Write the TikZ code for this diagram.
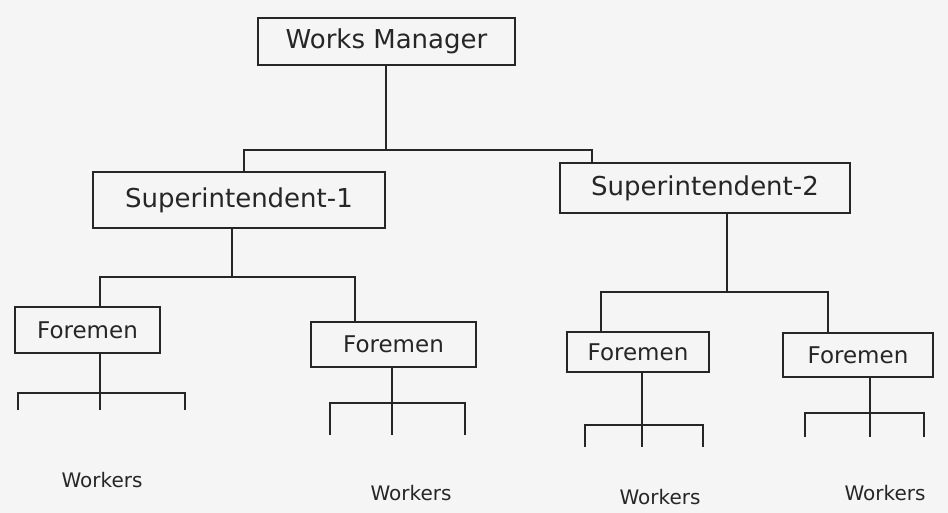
\documentclass[tikz,border=0pt]{standalone}
\usepackage{fontspec}
\setmainfont{DejaVu Sans}
\begin{document}
\begin{tikzpicture}[x=1pt,y=-1pt,
  line width=1.6pt, draw=black!85,
  box/.style={draw=black!85, rectangle, inner sep=0pt, font=\fontsize{26}{28}\selectfont, text=black!85},
  fbox/.style={box, font=\fontsize{23}{25}\selectfont},
  lbl/.style={font=\fontsize{20}{22}\selectfont, text=black!85},
  link/.style={draw=black!85, line width=1.6pt}]
\fill[black!4] (0,0) rectangle (948,513);
\useasboundingbox (0,0) rectangle (948,513);

% boxes
\node[box, minimum width=257pt, minimum height=47pt] (wm) at (386.5,41.5) {Works Manager};
\node[box, minimum width=292pt, minimum height=56pt] (s1) at (239,200) {Superintendent-1};
\node[box, minimum width=290pt, minimum height=50pt] (s2) at (705,188) {Superintendent-2};
\node[fbox, minimum width=145pt, minimum height=46pt] (f1) at (87.5,330) {Foremen};
\node[fbox, minimum width=165pt, minimum height=45pt] (f2) at (393.5,344.5) {Foremen};
\node[fbox, minimum width=142pt, minimum height=40pt] (f3) at (638,352) {Foremen};
\node[fbox, minimum width=150pt, minimum height=44pt] (f4) at (858,355) {Foremen};

% worker labels
\node[lbl] (w1) at (102,480) {Workers};
\node[lbl] (w2) at (411,493) {Workers};
\node[lbl] (w3) at (660,497) {Workers};
\node[lbl] (w4) at (885,493) {Workers};

% manager to superintendents
\coordinate (m0) at (386,150);
\coordinate (ml) at (244,150);
\coordinate (mr) at (592,150);
\draw[link] (wm.south -| m0) -- (m0);
\draw[link] (ml |- s1.north) -- (ml) -- (mr) -- (mr |- s2.north);

% superintendent 1 to foremen
\coordinate (a0) at (232,277);
\coordinate (al) at (100,277);
\coordinate (ar) at (355,277);
\draw[link] (s1.south -| a0) -- (a0);
\draw[link] (al |- f1.north) -- (al) -- (ar) -- (ar |- f2.north);

% superintendent 2 to foremen
\coordinate (b0) at (727,292);
\coordinate (bl) at (601,292);
\coordinate (br) at (828,292);
\draw[link] (s2.south -| b0) -- (b0);
\draw[link] (bl |- f3.north) -- (bl) -- (br) -- (br |- f4.north);

% foremen to worker forks
\coordinate (c0) at (100,393);
\coordinate (cl) at (18,393);
\coordinate (cr) at (185,393);
\draw[link] (f1.south -| c0) -- (c0) -- ++(0,17);
\draw[link] (cl) ++(0,17) -- (cl) -- (cr) -- ++(0,17);

\coordinate (d0) at (392,403);
\coordinate (dl) at (330,403);
\coordinate (dr) at (465,403);
\draw[link] (f2.south -| d0) -- (d0) -- ++(0,32);
\draw[link] (dl) ++(0,32) -- (dl) -- (dr) -- ++(0,32);

\coordinate (e0) at (642,425);
\coordinate (el) at (585,425);
\coordinate (er) at (703,425);
\draw[link] (f3.south -| e0) -- (e0) -- ++(0,22);
\draw[link] (el) ++(0,22) -- (el) -- (er) -- ++(0,22);

\coordinate (g0) at (870,413);
\coordinate (gl) at (805,413);
\coordinate (gr) at (924,413);
\draw[link] (f4.south -| g0) -- (g0) -- ++(0,24);
\draw[link] (gl) ++(0,24) -- (gl) -- (gr) -- ++(0,24);
\end{tikzpicture}
\end{document}
